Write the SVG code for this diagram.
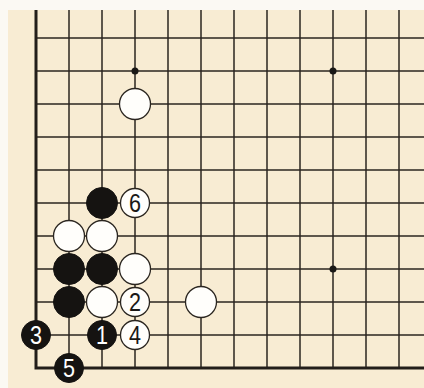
<svg xmlns="http://www.w3.org/2000/svg" width="424" height="388" viewBox="0 0 424 388">
<style>
.g{stroke:#2b2620;stroke-width:1.5;fill:none}
.e{stroke:#231e1a;stroke-width:3;fill:none}
.b{fill:#151311;stroke:#151311;stroke-width:1}
.w{fill:#fffefb;stroke:#2b2620;stroke-width:1.3}
.h{fill:#1a1816}
.nb{font-family:"Liberation Sans",Arial,sans-serif;font-size:25px;fill:#ffffff;text-anchor:middle}
.nw{font-family:"Liberation Sans",Arial,sans-serif;font-size:25px;fill:#1a1816;text-anchor:middle}
</style>
<rect width="424" height="388" fill="#fbf9f3"/>
<rect x="8" y="10" width="416" height="378" fill="#f8ecd3"/>
<g id="grid">
<path class="g" d="M69 10V368M102 10V368M135 10V368M168 10V368M201 10V368M234 10V368M267 10V368M300 10V368M333 10V368M366 10V368M399 10V368"/>
<path class="g" d="M36 38H424M36 71H424M36 104H424M36 137H424M36 170H424M36 203H424M36 236H424M36 269H424M36 302H424M36 335H424"/>
<path class="e" d="M36 10V368H424"/>
<circle class="h" cx="135" cy="71" r="3.5"/>
<circle class="h" cx="333" cy="71" r="3.5"/>
<circle class="h" cx="333" cy="269" r="3.5"/>
</g>
<g id="stones">
<circle class="w" cx="135" cy="104" r="15.5"/>
<circle class="b" cx="102" cy="203" r="15.5"/>
<circle class="w" cx="69" cy="236" r="15.5"/>
<circle class="w" cx="102" cy="236" r="15.5"/>
<circle class="b" cx="69" cy="269" r="15.5"/>
<circle class="b" cx="102" cy="269" r="15.5"/>
<circle class="w" cx="135" cy="269" r="15.5"/>
<circle class="b" cx="69" cy="302" r="15.5"/>
<circle class="w" cx="102" cy="302" r="15.5"/>
<circle class="w" cx="201" cy="302" r="15.5"/>
</g>
<g id="m1"><circle class="b" cx="102" cy="335" r="14.5"/><text class="nb" x="102" y="344" textLength="12" lengthAdjust="spacingAndGlyphs">1</text></g>
<g id="m2"><circle class="w" cx="135" cy="302" r="14.5"/><text class="nw" x="135" y="311" textLength="12" lengthAdjust="spacingAndGlyphs">2</text></g>
<g id="m3"><circle class="b" cx="36" cy="335" r="14.5"/><text class="nb" x="36" y="344" textLength="12" lengthAdjust="spacingAndGlyphs">3</text></g>
<g id="m4"><circle class="w" cx="135" cy="335" r="14.5"/><text class="nw" x="135" y="344" textLength="12" lengthAdjust="spacingAndGlyphs">4</text></g>
<g id="m5"><circle class="b" cx="69" cy="368" r="14.5"/><text class="nb" x="69" y="377" textLength="12" lengthAdjust="spacingAndGlyphs">5</text></g>
<g id="m6"><circle class="w" cx="135" cy="203" r="14.5"/><text class="nw" x="135" y="212" textLength="12" lengthAdjust="spacingAndGlyphs">6</text></g>
</svg>
